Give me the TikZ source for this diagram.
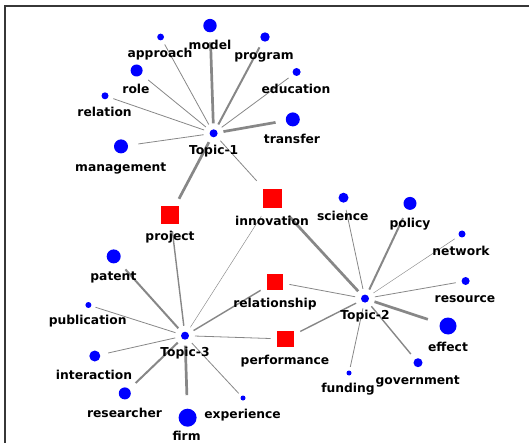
\documentclass[tikz,border=0pt]{standalone}
\usepackage{fontspec}
\setmainfont{DejaVu Sans}
\usetikzlibrary{positioning,calc}
\definecolor{topicblue}{RGB}{0,0,255}
\definecolor{termred}{RGB}{255,0,0}
\definecolor{linkgray}{RGB}{135,135,135}
\definecolor{framegray}{RGB}{55,55,55}
\tikzset{
  dot/.style={circle,fill=topicblue,inner sep=0pt,minimum size=2*#1,outer sep=1.5*#1},
  term/.style={rectangle,fill=termred,inner sep=0pt,minimum size=#1,outer sep=0.4*#1},
  lbl/.style={inner sep=0pt,text height=8.8pt,text depth=0pt,font=\bfseries\fontsize{12.3}{14}\selectfont},
  w1/.style={linkgray,line width=0.45pt},
  w2/.style={linkgray,line width=0.8pt},
  w3/.style={linkgray,line width=1.4pt},
  w4/.style={linkgray,line width=2pt},
  w5/.style={linkgray,line width=2.7pt}
}

\begin{document}
\begin{tikzpicture}[x=1pt,y=-1pt]
    \useasboundingbox (0,0) rectangle (529,443);
    \draw[framegray,line width=1.8pt] (5,443) -- (5,6) -- (529,6);
    % topics
    \node[dot=4pt] (t1) at (213.6,133.3) {};
    \node[dot=4pt] (t2) at (365,298.6) {};
    \node[dot=4pt] (t3) at (185,335.7) {};
    % shared terms
    \node[term=18pt] (project) at (170.4,215) {};
    \node[term=19.5pt] (innovation) at (272.6,198.4) {};
    \node[term=16pt] (relationship) at (275,281.7) {};
    \node[term=16.5pt] (performance) at (285.4,339) {};
    % words of Topic-1
    \node[dot=6.7pt] (model) at (210,25.6) {};
    \node[dot=3.4pt] (approach) at (160.6,37) {};
    \node[dot=4.7pt] (program) at (265,37) {};
    \node[dot=4pt] (education) at (296.6,72) {};
    \node[dot=6pt] (role) at (136.6,70.5) {};
    \node[dot=3.5pt] (relation) at (105,95.8) {};
    \node[dot=7pt] (transfer) at (292.8,119.4) {};
    \node[dot=7pt] (management) at (121,146.4) {};
    % words of Topic-2
    \node[dot=5pt] (science) at (343.5,197.7) {};
    \node[dot=6.5pt] (policy) at (410,203.4) {};
    \node[dot=3.5pt] (network) at (462,234) {};
    \node[dot=4pt] (resource) at (465.6,281) {};
    \node[dot=8.5pt] (effect) at (448,326) {};
    \node[dot=4.5pt] (government) at (418,362.7) {};
    \node[dot=2.5pt] (funding) at (349,373) {};
    % words of Topic-3
    \node[dot=7pt] (patent) at (113.7,256.4) {};
    \node[dot=3pt] (publication) at (88.4,305) {};
    \node[dot=5.5pt] (interaction) at (94.8,356) {};
    \node[dot=6pt] (researcher) at (124.8,393.4) {};
    \node[dot=9pt] (firm) at (187.6,417.7) {};
    \node[dot=2.5pt] (experience) at (243,398) {};

    % links
    \draw[w5] (t1) -- (model);
    \draw[w2] (t1) -- (approach);
    \draw[w4] (t1) -- (program);
    \draw[w2] (t1) -- (education);
    \draw[w2] (t1) -- (role);
    \draw[w2] (t1) -- (relation);
    \draw[w5] (t1) -- (transfer);
    \draw[w2] (t1) -- (management);
    \draw[w5] (t1) -- (project);
    \draw[w2] (t1) -- (innovation);
    \draw[w5] (t2) -- (innovation);
    \draw[w2] (t2) -- (science);
    \draw[w4] (t2) -- (policy);
    \draw[w1] (t2) -- (network);
    \draw[w2] (t2) -- (resource);
    \draw[w5] (t2) -- (effect);
    \draw[w3] (t2) -- (government);
    \draw[w2] (t2) -- (funding);
    \draw[w2] (t2) -- (relationship);
    \draw[w3] (t2) -- (performance);
    \draw[w3] (t3) -- (project);
    \draw[w1] (t3) -- (innovation);
    \draw[w3] (t3) -- (relationship);
    \draw[w2] (t3) -- (performance);
    \draw[w4] (t3) -- (patent);
    \draw[w2] (t3) -- (publication);
    \draw[w2] (t3) -- (interaction);
    \draw[w4] (t3) -- (researcher);
    \draw[w5] (t3) -- (firm);
    \draw[w2] (t3) -- (experience);

    % labels
    \node[lbl] (t1-l) at (213.6,150) {Topic-1};
    \node[lbl] (t2-l) at (365,315.5) {Topic-2};
    \node[lbl] (t3-l) at (185,352) {Topic-3};
    \node[lbl] (project-l) at (170,236.5) {project};
    \node[lbl] (innovation-l) at (272,221) {innovation};
    \node[lbl] (relationship-l) at (275,302.6) {relationship};
    \node[lbl] (performance-l) at (285,360) {performance};
    \node[lbl] (model-l) at (210,45) {model};
    \node[lbl] (approach-l) at (160,53) {approach};
    \node[lbl] (program-l) at (264,55) {program};
    \node[lbl] (education-l) at (296,89) {education};
    \node[lbl] (role-l) at (136,89.4) {role};
    \node[lbl] (relation-l) at (104.6,112) {relation};
    \node[lbl] (transfer-l) at (292,139) {transfer};
    \node[lbl] (management-l) at (120.8,167) {management};
    \node[lbl] (science-l) at (342.8,216) {science};
    \node[lbl] (policy-l) at (410,223) {policy};
    \node[lbl] (network-l) at (461,251) {network};
    \node[lbl] (resource-l) at (465,298) {resource};
    \node[lbl] (effect-l) at (448,347) {effect};
    \node[lbl] (government-l) at (417.7,380) {government};
    \node[lbl] (funding-l) at (348,388) {funding};
    \node[lbl] (patent-l) at (113.4,276) {patent};
    \node[lbl] (publication-l) at (87.7,320) {publication};
    \node[lbl] (interaction-l) at (94,374.8) {interaction};
    \node[lbl] (researcher-l) at (124.5,412.6) {researcher};
    \node[lbl] (firm-l) at (186.6,436.5) {firm};
    \node[lbl] (experience-l) at (242.6,413.6) {experience};
\end{tikzpicture}
\end{document}
